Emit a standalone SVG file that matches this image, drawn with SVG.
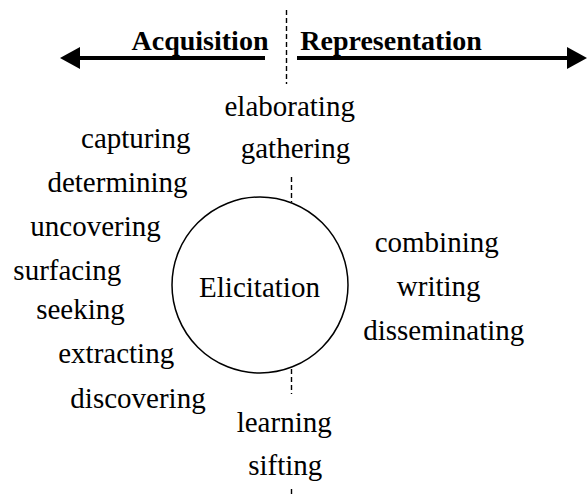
<svg xmlns="http://www.w3.org/2000/svg" width="587" height="495" viewBox="0 0 587 495">
<style>
  .t { font-family: "Liberation Serif", "Times New Roman", serif; font-size: 29px; fill: #000; text-anchor: middle; }
  .b { font-family: "Liberation Serif", "Times New Roman", serif; font-size: 28px; font-weight: bold; fill: #000; text-anchor: middle; }
  .dash { stroke: #000; stroke-width: 1.4; stroke-dasharray: 5 3; fill: none; }
  .arrow { stroke: #000; stroke-width: 4; fill: none; }
</style>
<rect width="587" height="495" fill="#fff"/>
<g id="connectors">
  <line class="dash" x1="286.5" y1="10" x2="286.5" y2="84"/>
  <line class="dash" x1="291.5" y1="177" x2="291.5" y2="202"/>
  <line class="dash" x1="291.5" y1="369" x2="291.5" y2="394"/>
  <line class="dash" x1="291.5" y1="489" x2="291.5" y2="495"/>
  <line class="arrow" x1="265" y1="58" x2="76" y2="58"/>
  <polygon points="60,58 80,47 80,69" fill="#000"/>
  <line class="arrow" x1="297" y1="58" x2="571" y2="58"/>
  <polygon points="587,58 567,47 567,69" fill="#000"/>
</g>
<g id="acquisition"><text class="b" x="200" y="50">Acquisition</text></g>
<g id="representation"><text class="b" x="391" y="50">Representation</text></g>
<g id="elicitation">
  <circle cx="260" cy="285" r="88" fill="none" stroke="#000" stroke-width="1.5"/>
  <text class="t" x="259.5" y="297">Elicitation</text>
</g>
<g id="elaborating"><text class="t" x="289.7" y="116">elaborating</text></g>
<g id="gathering"><text class="t" x="295.5" y="158">gathering</text></g>
<g id="capturing"><text class="t" x="135.8" y="148">capturing</text></g>
<g id="determining"><text class="t" x="117.5" y="192">determining</text></g>
<g id="uncovering"><text class="t" x="95.5" y="236">uncovering</text></g>
<g id="surfacing"><text class="t" x="67.3" y="280">surfacing</text></g>
<g id="seeking"><text class="t" x="80.5" y="319">seeking</text></g>
<g id="extracting"><text class="t" x="116.2" y="363">extracting</text></g>
<g id="discovering"><text class="t" x="138" y="408">discovering</text></g>
<g id="combining"><text class="t" x="436.7" y="252">combining</text></g>
<g id="writing"><text class="t" x="438.7" y="296">writing</text></g>
<g id="disseminating"><text class="t" x="443.7" y="340">disseminating</text></g>
<g id="learning"><text class="t" x="284.2" y="432">learning</text></g>
<g id="sifting"><text class="t" x="285.3" y="475">sifting</text></g>
</svg>
